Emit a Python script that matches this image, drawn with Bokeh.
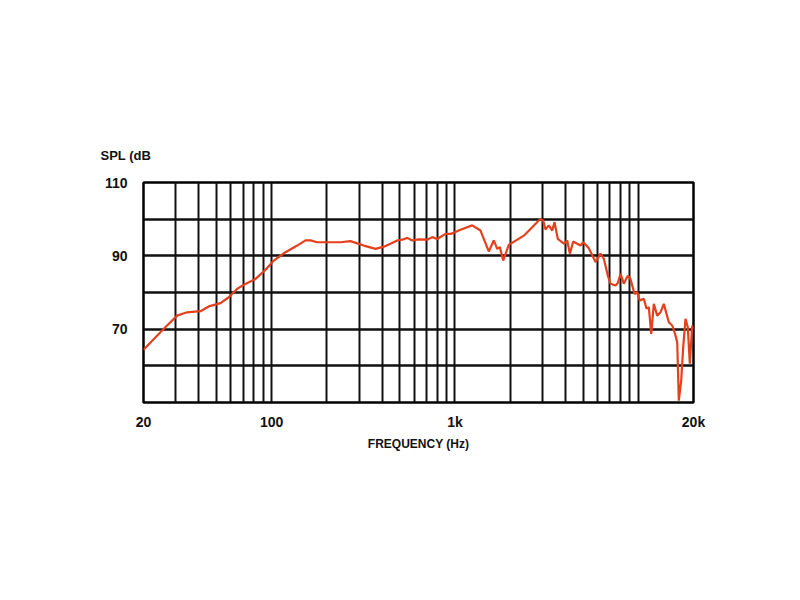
from bokeh.plotting import figure
from bokeh.models import Range1d, FixedTicker
from bokeh.embed import file_html
from bokeh.resources import INLINE

# --- data ---
freq_hz = [20, 25.8, 30.5, 34.6, 40.9, 45.4, 52.6, 58.4, 64.9, 70.5, 81.7, 92.6,
           102.7, 116.5, 137.9, 153, 163, 177, 209, 238, 269, 293, 318, 369, 409,
           445, 484, 515, 549, 584, 635, 706, 751, 800, 888, 945, 985, 1072, 1242,
           1378, 1529, 1628, 1700, 1756, 1832, 1966, 2374, 2638, 2928, 3028, 3117,
           3250, 3392, 3492, 3638, 3924, 4096, 4231, 4416, 4643, 4839, 5006, 5370,
           5844, 6222, 6486, 6820, 7053, 7510, 7730, 7998, 8337, 8766, 9068, 9536,
           9863, 10192, 10715, 11085, 11412, 11760, 12151, 12680, 13213, 13772,
           14668, 15310, 15956, 16300, 16630, 17138, 17572, 18090, 18620, 19094,
           19680, 20000]
spl_db = [64.4, 70.1, 73.7, 74.6, 74.9, 76.2, 77.1, 78.7, 81.0, 82.1, 83.7, 86.2,
          88.7, 90.7, 92.8, 94.2, 94.2, 93.7, 93.7, 93.7, 94.0, 93.4, 92.8, 91.9, 92.5,
          93.3, 94.2, 94.4, 94.9, 94.2, 94.5, 94.4, 95.1, 94.6, 96.0, 96.0, 96.3, 97.1, 98.3,
          96.9, 91.2, 94.2, 91.9, 92.4, 88.7, 93.0, 95.5, 97.8, 100.1, 99.6, 97.2,
          98.3, 96.9, 99.2, 94.6, 93.3, 94.2, 90.6, 93.9, 93.3, 92.8, 93.7, 92.1,
          88.3, 90.6, 89.2, 84.6, 82.4, 81.9, 82.6, 85.1, 82.4, 84.6, 83.7, 79.6,
          80.1, 77.8, 78.3, 75.6, 76.0, 68.7, 76.9, 73.7, 74.6, 76.9,
          71.9, 71.0, 68.3, 66.4, 50.5, 56.0, 65.1, 72.8, 70.5, 60.6,
          71.0, 70.0]

x_tick_values = [20, 100, 1000, 20000]
x_tick_labels = ["20", "100", "1k", "20k"]
x_grid_values = [30, 40, 50, 60, 70, 80, 90, 100,
                 200, 300, 400, 500, 600, 700, 800, 900, 1000,
                 2000, 3000, 4000, 5000, 6000, 7000, 8000, 9000, 10000]
y_tick_values = [70, 90, 110]
y_grid_values = [60, 70, 80, 90, 100]

FONT = "Liberation Sans"

W, H = 784, 584
p = figure(width=W, height=H, x_axis_type="log",
           x_range=Range1d(20, 20000), y_range=Range1d(50, 110),
           output_backend="svg", toolbar_location=None,
           min_border_left=143, min_border_right=W - 143 - 550,
           min_border_top=182, min_border_bottom=H - 182 - 220)

p.outline_line_color = "black"
p.outline_line_width = 2.5
p.background_fill_color = "white"
p.border_fill_color = "white"

p.xgrid.ticker = FixedTicker(ticks=x_grid_values)
p.ygrid.ticker = FixedTicker(ticks=y_grid_values)
for g in (p.xgrid, p.ygrid):
    g.grid_line_color = "#111111"
    g.grid_line_width = 2
    g.minor_grid_line_color = None
p.ygrid.grid_line_width = 2.5

p.xaxis.ticker = FixedTicker(ticks=x_tick_values)
p.xaxis.major_label_overrides = {v: l for v, l in zip(x_tick_values, x_tick_labels)}
p.yaxis.ticker = FixedTicker(ticks=y_tick_values)

for ax in (p.xaxis, p.yaxis):
    ax.axis_line_color = None
    ax.major_tick_line_color = None
    ax.minor_tick_line_color = None
    ax.major_label_text_font = FONT
    ax.major_label_text_font_style = "bold"
    ax.major_label_text_font_size = "14px"
    ax.major_label_text_color = "#111111"

p.xaxis.major_label_standoff = 5
p.yaxis.major_label_standoff = 10

p.xaxis.axis_label = "FREQUENCY (Hz)"
p.xaxis.axis_label_text_font = FONT
p.xaxis.axis_label_text_font_style = "bold"
p.xaxis.axis_label_text_font_size = "12px"
p.xaxis.axis_label_text_color = "#111111"
p.xaxis.axis_label_standoff = 4

p.title.text = "SPL (dB"
p.title.align = "left"
p.title.offset = -43
p.title.standoff = 40
p.title.text_font = FONT
p.title.text_font_style = "bold"
p.title.text_font_size = "13px"
p.title.text_color = "#111111"

p.line(freq_hz, spl_db, line_color="#e5401c", line_width=2.2)

open("out.html", "w").write(file_html(p, INLINE))
